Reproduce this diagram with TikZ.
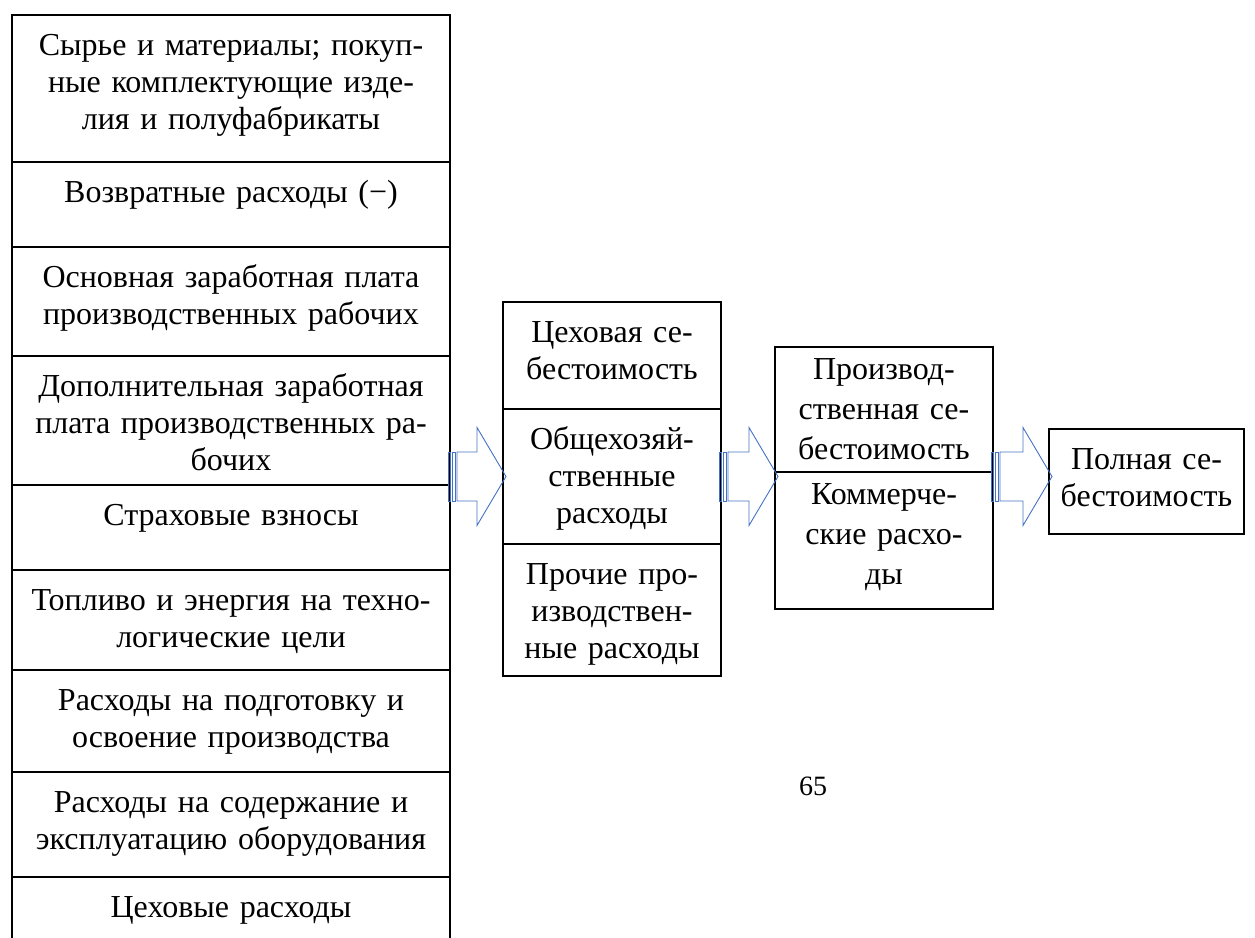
\documentclass[tikz,border=0pt]{standalone}
\usepackage{fontspec}
\setmainfont{Liberation Serif}
\usetikzlibrary{positioning}
\definecolor{arrowblue}{RGB}{68,114,196}

\begin{document}
\begin{tikzpicture}[
    x=0.5pt, y=-0.5pt,
    costcell/.style={draw, line width=0.7pt, inner sep=0pt, outer sep=0pt, align=center, text height=20pt, font=\fontsize{16pt}{18.5pt}\selectfont},
    leftcell/.style={costcell, text width=219pt},
    midcell/.style={costcell, text width=109pt},
    loosecell/.style={midcell, text height=16pt, font=\fontsize{16pt}{20pt}\selectfont},
    stripearrow/.style={draw=arrowblue, line width=0.45pt}
]
\path[use as bounding box] (0,0) rectangle (1255,938);

% Statement items
\node[leftcell, anchor=north west, text depth=53.5pt] (raw) at (12,15) {Сырье и материалы; покуп-\\ные комплектующие изде-\\лия и полуфабрикаты};
\node[leftcell, text depth=22.5pt, below=0pt of raw] (returns) {Возвратные расходы (−)};
\node[leftcell, text depth=34.5pt, below=0pt of returns] (basewage) {Основная заработная плата\\производственных рабочих};
\node[leftcell, text depth=44.5pt, below=0pt of basewage] (extrawage) {Дополнительная заработная\\плата производственных ра-\\бочих};
\node[leftcell, text depth=22.5pt, below=0pt of extrawage] (insurance) {Страховые взносы};
\node[leftcell, text depth=30pt, below=0pt of insurance] (fuel) {Топливо и энергия на техно-\\логические цели};
\node[leftcell, text depth=31pt, below=0pt of fuel] (setup) {Расходы на подготовку и\\освоение производства};
\node[leftcell, text depth=32.5pt, below=0pt of setup] (equipment) {Расходы на содержание и\\эксплуатацию оборудования};
\node[leftcell, text depth=21.5pt, below=0pt of equipment] (shopover) {Цеховые расходы};

% Cost levels
\node[midcell, anchor=north west, text depth=33.5pt] (shopcost) at (503,302) {Цеховая се-\\бестоимость};
\node[midcell, text depth=47.5pt, below=0pt of shopcost] (general) {Общехозяй-\\ственные\\расходы};
\node[midcell, text depth=46pt, below=0pt of general] (otherprod) {Прочие про-\\изводствен-\\ные расходы};

\node[loosecell, anchor=north west, text depth=46.5pt] (prodcost) at (775,347) {Производ-\\ственная се-\\бестоимость};
\node[loosecell, text depth=52.5pt, below=0pt of prodcost] (selling) {Коммерче-\\ские расхо-\\ды};

\node[costcell, text width=97.5pt, anchor=north west, text depth=32.5pt] (fullcost) at (1049,429) {Полная се-\\бестоимость};

\node[font=\fontsize{14pt}{16pt}\selectfont] (pagenum) at (813,786) {65};

% Striped arrows
\coordinate (axis) at (0,476.5);
\foreach \src/\dst [count=\i] in {extrawage/general, general/selling, selling/fullcost} {
  \coordinate (tail\i) at (\src.east |- axis);
  \coordinate (tip\i) at (\dst.west |- axis);
  \draw[stripearrow, shift={(tail\i)}] (-2,-24.5) rectangle (0.5,24.5) (2.5,-24.5) rectangle (5,24.5);
  \draw[stripearrow] ([shift={(7,-24.5)}]tail\i) -- ([shift={(-26,-24.5)}]tip\i) -- ++(0,-24.5)
    -- ([shift={(3,0)}]tip\i) -- ([shift={(-26,49)}]tip\i) -- ++(0,-24.5) -- ([shift={(7,24.5)}]tail\i) -- cycle;
}

\end{tikzpicture}
\end{document}
